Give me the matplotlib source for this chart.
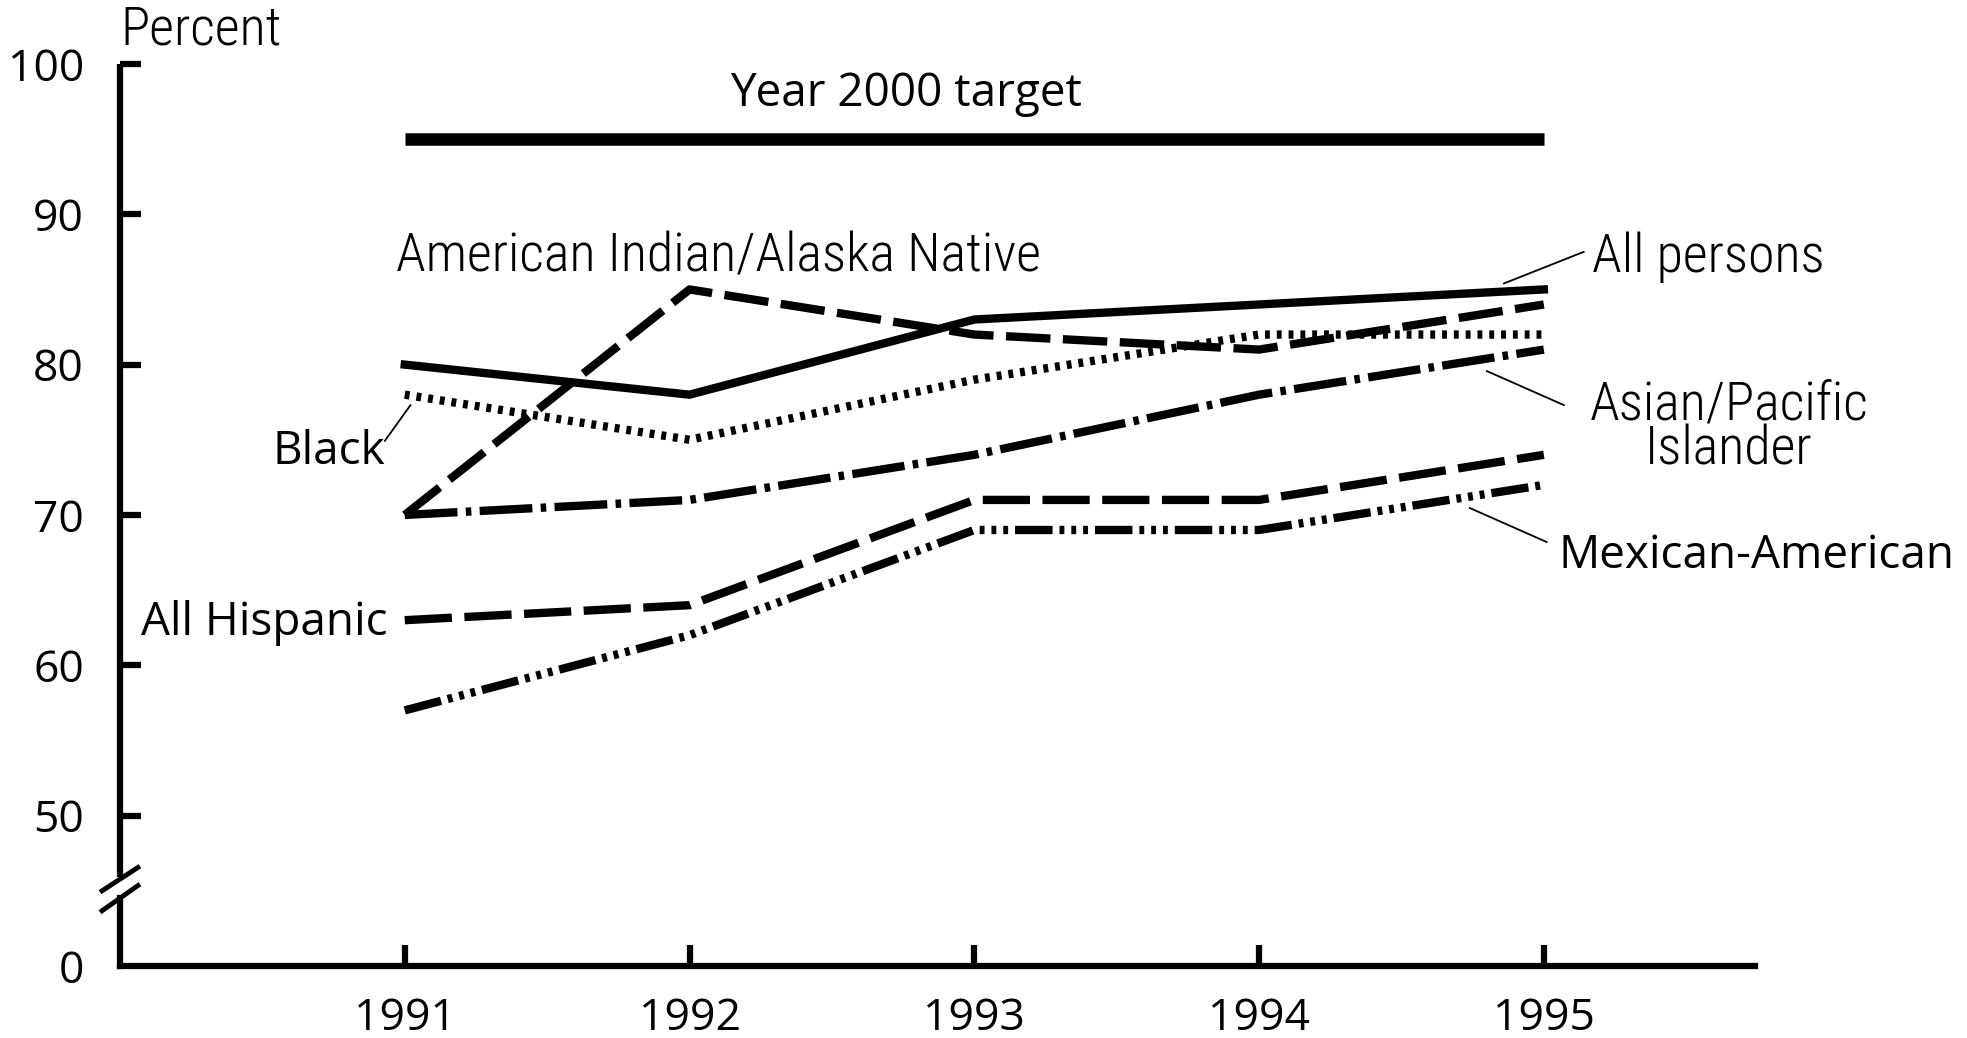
import matplotlib
matplotlib.use("Agg")
import matplotlib.pyplot as plt
import matplotlib.transforms as mtransforms

plt.rcParams['lines.scale_dashes'] = False

years = [1991, 1992, 1993, 1994, 1995]
all_persons = [80, 78, 83, 84, 85]
am_indian = [70, 85, 82, 81, 84]
black = [78, 75, 79, 82, 82]
asian_pi = [70, 71, 74, 78, 81]
all_hispanic = [63, 64, 71, 71, 74]
mexican_am = [57, 62, 69, 69, 72]
target = 95

ytick_pos = [40, 50, 60, 70, 80, 90, 100]
ytick_labels = ['0', '50', '60', '70', '80', '90', '100']

cond_font = ['Roboto Condensed', 'DejaVu Sans']
plain_font = ['Open Sans', 'DejaVu Sans']

fig = plt.figure(figsize=(19.67, 10.38), dpi=100)
ax = fig.add_axes([0.061, 0.0694, 0.831, 0.869])

lw = 6
ax.plot(years, all_persons, color='black', lw=lw, solid_joinstyle='miter')
ax.plot(years, am_indian, color='black', lw=lw, dashes=(32, 9))
ax.plot(years, black, color='black', lw=lw, dashes=(3.5, 5))
ax.plot(years, asian_pi, color='black', lw=lw, dashes=(38, 6, 4, 6))
ax.plot(years, all_hispanic, color='black', lw=lw, dashes=(34, 9))
ax.plot(years, mexican_am, color='black', lw=lw, dashes=(27, 5, 3.5, 5, 3.5, 5, 3.5, 5))
ax.plot([years[0], years[-1]], [target, target], color='black', lw=9, solid_capstyle='butt')

ax.set_xlim(1990.0, 1995.74)
ax.set_ylim(40, 100)

axis_lw = 4.5
ax.spines['top'].set_visible(False)
ax.spines['right'].set_visible(False)
ax.spines['left'].set_visible(False)
ax.spines['bottom'].set_linewidth(axis_lw)

# left axis drawn by hand, with the break
trans = mtransforms.blended_transform_factory(ax.transAxes, ax.transData)
ax.plot([0, 0], [40, 44.5], transform=trans, color='black', lw=axis_lw, clip_on=False, solid_capstyle='projecting')
ax.plot([0, 0], [45.9, 100], transform=trans, color='black', lw=axis_lw, clip_on=False, solid_capstyle='butt')
ax.plot([-0.0122, 0.0122], [44.91, 46.64], transform=trans, color='black', lw=3.5, clip_on=False, solid_capstyle='butt')
ax.plot([-0.0122, 0.0122], [43.58, 45.44], transform=trans, color='black', lw=3.5, clip_on=False, solid_capstyle='butt')
for yv in ytick_pos[1:]:
    ax.plot([0, 0.0129], [yv, yv], transform=trans, color='black', lw=axis_lw, clip_on=False, solid_capstyle='butt')

ax.set_yticks(ytick_pos)
ax.set_yticklabels(ytick_labels)
ax.tick_params(axis='y', length=0, pad=26)
ax.set_xticks(years)
ax.set_xticklabels([str(y) for y in years])
ax.tick_params(axis='x', direction='in', length=15, width=axis_lw, pad=22)
for lab in ax.get_xticklabels() + ax.get_yticklabels():
    lab.set_fontfamily(plain_font)
    lab.set_fontsize(32)

ck = dict(fontsize=39, family=cond_font, fontweight=300, clip_on=False)
pk = dict(fontsize=33, family=plain_font, va='baseline', clip_on=False)
ax.text(1990.003, 101.3, 'Percent', ha='left', va='baseline', **ck)
ax.text(1992.76, 97.2, 'Year 2000 target', ha='center', **pk)
ax.text(1990.97, 86.2, 'American Indian/Alaska Native', ha='left', va='baseline', **ck)
ax.text(1995.17, 86.16, 'All persons', ha='left', va='baseline', **ck)
ax.text(1995.65, 75.85, 'Asian/Pacific\nIslander', ha='center', va='center', linespacing=0.85, **ck)
ax.text(1995.05, 66.47, 'Mexican-American', ha='left', **pk)
ax.text(1990.93, 73.4, 'Black', ha='right', **pk)
ax.text(1990.94, 62.0, 'All Hispanic', ha='right', **pk)

# leader lines
ax.plot([1994.86, 1995.14], [85.4, 87.5], color='black', lw=1.3, clip_on=False)
ax.plot([1994.80, 1995.07], [79.57, 77.31], color='black', lw=1.3, clip_on=False)
ax.plot([1994.74, 1995.01], [70.46, 68.2], color='black', lw=1.3, clip_on=False)
ax.plot([1990.93, 1991.02], [74.93, 77.3], color='black', lw=1.3, clip_on=False)

fig.savefig('out.png', dpi=100)
